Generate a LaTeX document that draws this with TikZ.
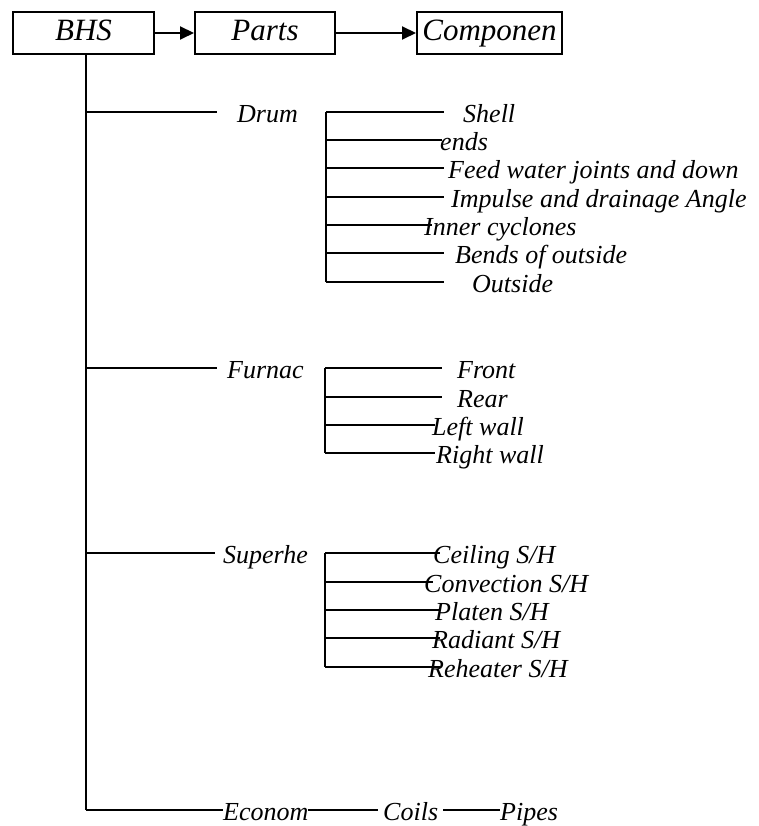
\documentclass[tikz,border=0pt]{standalone}
\usepackage{fontspec}
\setmainfont{Liberation Serif}
\usetikzlibrary{arrows.meta}
\newcommand\boxfnt{\fontsize{31}{36}\selectfont\itshape}
\newcommand\lblfnt{\fontsize{26}{30}\selectfont\itshape}
\begin{document}
\begin{tikzpicture}[x=1pt,y=-1pt,
  box/.style={draw,line width=2pt,inner sep=0pt,minimum height=42pt,text height=22pt,text depth=6pt,font=\boxfnt},
  lbl/.style={anchor=base west,inner sep=0pt,font=\lblfnt},
  ln/.style={line width=2pt},
  arr/.style={line width=2pt,-{Triangle[length=14pt,width=13pt]}}]
\useasboundingbox (0,0) rectangle (758,826);
% top row
\node[box,minimum width=141pt] (bhs) at (83.5,33) {BHS};
\node[box,minimum width=140pt] (parts) at (265,33) {Parts};
\node[box,minimum width=145pt] (comp) at (489.5,33) {Componen};
\draw[arr] (bhs) -- (parts);
\draw[arr] (parts) -- (comp);
% trunk
\coordinate (tk) at (86,810);
\draw[ln] (bhs.south -| tk) -- (tk);
% main branches
\coordinate (b1) at (86,112);  \coordinate (b1e) at (217,112);
\coordinate (b2) at (86,368);  \coordinate (b2e) at (217,368);
\coordinate (b3) at (86,553);  \coordinate (b3e) at (215,553);
\node[lbl] (drum) at (237,122.5) {Drum};
\node[lbl] (furn) at (227,378.5) {Furnac};
\node[lbl] (sup) at (223,563.5) {Superhe};
\node[lbl] (econ) at (223,820) {Econom};
\node[lbl] (coils) at (383,820) {Coils};
\node[lbl] (pipes) at (500,820) {Pipes};
\draw[ln] (b1) -- (b1e);
\draw[ln] (b2) -- (b2e);
\draw[ln] (b3) -- (b3e);
\draw[ln] (tk) -- (econ.west |- tk);
\draw[ln] ([xshift=-1pt]econ.east |- tk) -- ([xshift=-5pt]coils.west |- tk);
\draw[ln] ([xshift=5pt]coils.east |- tk) -- (pipes.west |- tk);
% drum bracket
\coordinate (d1) at (326,112); \coordinate (d7) at (326,282);
\draw[ln] (d1) -- (d7);
\node[lbl] (shell) at (463,122.5) {Shell};
\node[lbl] (ends) at (440,150.5) {ends};
\node[lbl] (feed) at (448,178.5) {Feed water joints and down};
\node[lbl] (imp) at (451,207.5) {Impulse and drainage Angle};
\node[lbl] (inner) at (424,235.5) {Inner cyclones};
\node[lbl] (bends) at (455,263.5) {Bends of outside};
\node[lbl] (outs) at (472,292.5) {Outside};
\draw[ln] (d1) -- (444,112);
\draw[ln] (326,140) -- (442,140);
\draw[ln] (326,168) -- (444,168);
\draw[ln] (326,197) -- (444,197);
\draw[ln] (326,225) -- (432,225);
\draw[ln] (326,253) -- (444,253);
\draw[ln] (d7) -- (444,282);
% furnace bracket
\coordinate (f1) at (325,368); \coordinate (f4) at (325,453);
\draw[ln] (f1) -- (f4);
\node[lbl] (front) at (457,378.5) {Front};
\node[lbl] (rear) at (457,407.5) {Rear};
\node[lbl] (lwall) at (432,435.5) {Left wall};
\node[lbl] (rwall) at (436,463.5) {Right wall};
\draw[ln] (f1) -- (442,368);
\draw[ln] (325,397) -- (442,397);
\draw[ln] (325,425) -- (435,425);
\draw[ln] (f4) -- (435,453);
% superheater bracket
\coordinate (s1) at (325,553); \coordinate (s5) at (325,667);
\draw[ln] (s1) -- (s5);
\node[lbl] (ceil) at (433,563.5) {Ceiling S/H};
\node[lbl] (conv) at (424,592.5) {Convection S/H};
\node[lbl] (plat) at (435,620.5) {Platen S/H};
\node[lbl] (rad) at (432,648.5) {Radiant S/H};
\node[lbl] (reh) at (428,677.5) {Reheater S/H};
\draw[ln] (s1) -- (440,553);
\draw[ln] (325,582) -- (433,582);
\draw[ln] (325,610) -- (440,610);
\draw[ln] (325,638) -- (440,638);
\draw[ln] (s5) -- (440,667);
\end{tikzpicture}
\end{document}
